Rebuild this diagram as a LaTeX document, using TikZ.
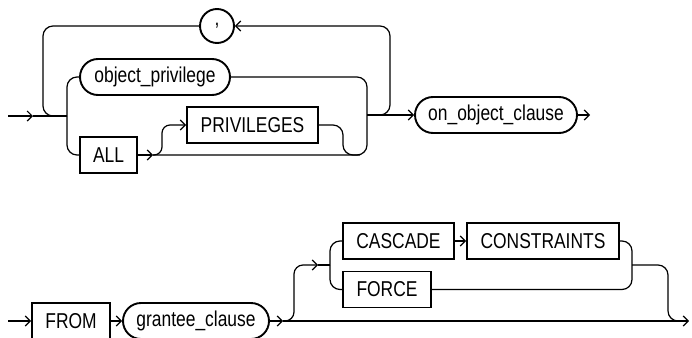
\documentclass[tikz,border=0pt]{standalone}
\usepackage{fontspec}
\setmainfont{Liberation Sans}[FakeStretch=0.81]
\usetikzlibrary{arrows.meta}
\tikzset{railsyn/.style={x=1pt,y=-1pt,line width=1.2pt,font=\fontsize{21.5}{25}\selectfont}}
\tikzset{kw/.style={draw,rectangle,line width=1.9pt,inner sep=0pt,minimum height=36pt},
         nt/.style={draw,rectangle,rounded corners=18pt,line width=1.9pt,inner sep=0pt,minimum height=36pt},
         arw/.style={-{Straight Barb[length=5pt,width=10pt]}},
         rc/.style={rounded corners=10pt}}

\begin{document}
\begin{tikzpicture}[railsyn]
    \useasboundingbox (0,0) rectangle (692,337);
    % privileges part
    \node[draw,circle,line width=1.9pt,minimum size=34pt,inner sep=0pt] (comma) at (217,26) {,};
    \node[nt,minimum width=150pt] (objpriv) at (155,77) {object\_privilege};
    \node[kw,minimum width=57pt]  (all)     at (108.5,155) {ALL};
    \node[kw,minimum width=131pt] (privs)   at (252.5,125) {PRIVILEGES};
    \node[nt,minimum width=162pt] (onobj)   at (496,115) {on\_object\_clause};
    \coordinate (in1)  at (8,116);
    \coordinate (a1)   at (33,116);
    \coordinate (j1)   at (67,116);
    \coordinate (a2)   at (153,155);
    \coordinate (j2)   at (367,115);
    \coordinate (out1) at (590,115);
    \draw[arw] (in1) -- (a1);
    \draw (a1) -- (j1);
    \draw[rc] (j1) |- (objpriv.west);
    \draw[rc] (j1) |- (all.west);
    \draw[rc] (55,116) -| (43,26) -- (comma.west);
    \draw[arw,rc] (378,115) -| (390,26) -- (comma.east);
    \draw[arw] (all.east) -- (a2);
    \draw[arw,rounded corners=8pt] (a2) -| (162,125) -- (privs.west);
    \draw[rc] (privs.east) -| (343,155) -- (360,155);
    \draw[rc] (objpriv.east) -| (367,155) -- (a2);
    \draw[arw] (j2) -- (onobj.west);
    \draw[arw] (onobj.east) -- (out1);
    % revoke tail
    \node[kw,minimum width=78pt]  (from)    at (71,321) {FROM};
    \node[nt,minimum width=146pt] (grantee) at (196,321) {grantee\_clause};
    \node[kw,minimum width=111pt] (cascade) at (398.5,241) {CASCADE};
    \node[kw,minimum width=152pt] (constr)  at (543,241) {CONSTRAINTS};
    \node[kw,minimum width=88pt]  (force)   at (387,289.5) {FORCE};
    \coordinate (in2)  at (8,321);
    \coordinate (a3)   at (283,321);
    \coordinate (a4)   at (318,265);
    \coordinate (j3)   at (330,265);
    \coordinate (out2) at (689,321);
    \draw[arw] (in2) -- (from.west);
    \draw[arw] (from.east) -- (grantee.west);
    \draw[arw] (grantee.east) -- (a3);
    \draw[arw] (a3) -- (out2);
    \draw[arw,rounded corners=9pt] (a3) -| (294,265) -- (a4);
    \draw (a4) -- (j3);
    \draw[rc] (j3) |- (cascade.west);
    \draw[rc] (j3) |- (force.west);
    \draw[arw] (cascade.east) -- (constr.west);
    \draw[rc] (constr.east) -| (632,289.5) -- (force.east);
    \draw[rc] (632,265) -| (668,321) -- (678,321);
  \end{tikzpicture}
\end{document}
